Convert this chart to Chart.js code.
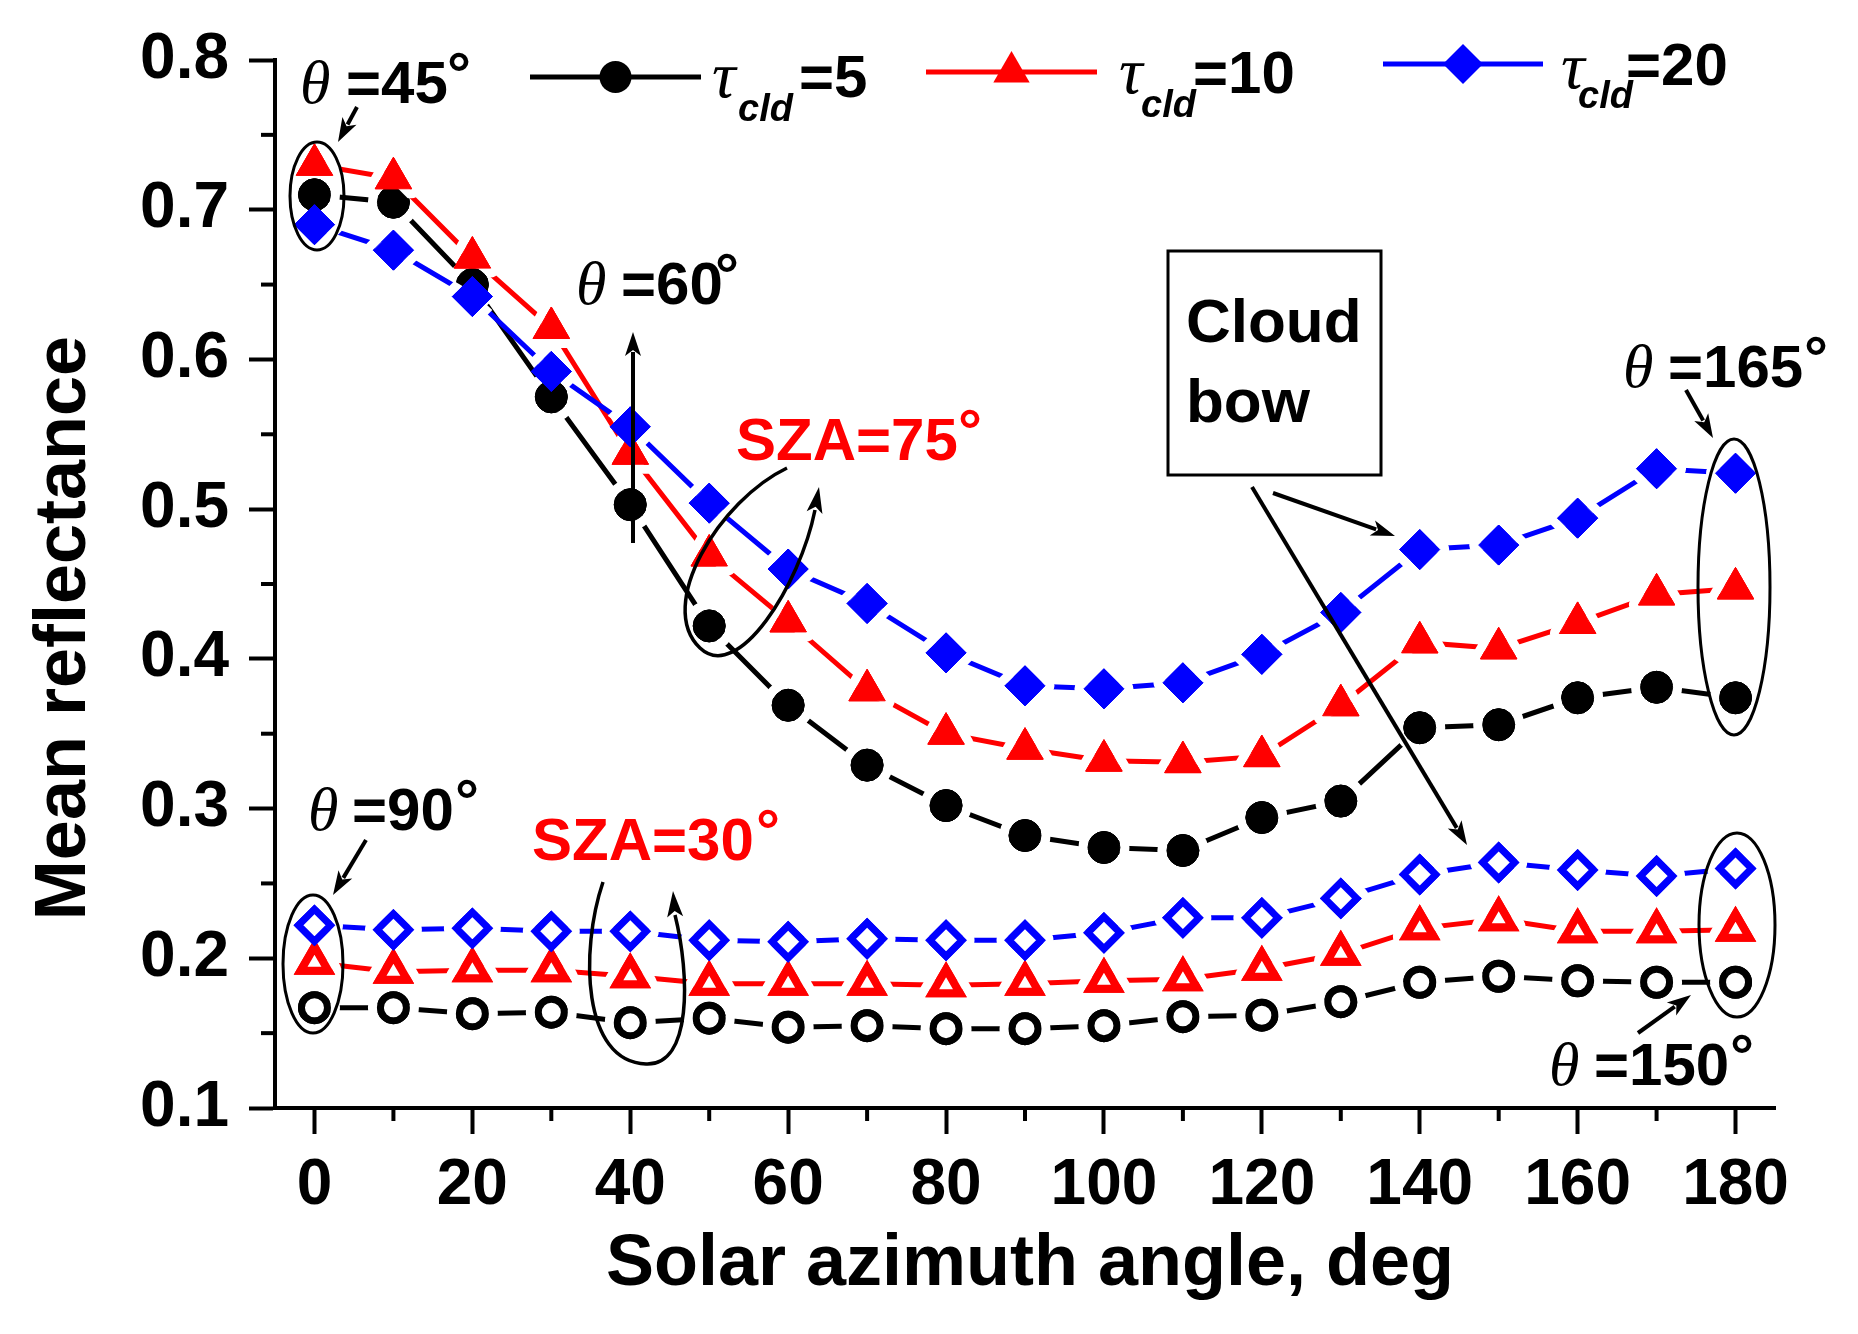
<!DOCTYPE html>
<html>
<head>
<meta charset="utf-8">
<title>Mean reflectance vs solar azimuth angle</title>
<script src="https://cdn.jsdelivr.net/npm/chart.js@4.4.1/dist/chart.umd.min.js"></script>
<style>
  html, body { margin: 0; padding: 0; background: #fff; }
  #wrap { width: 1858px; height: 1334px; }
</style>
</head>
<body>
<div id="wrap"><canvas id="reflChart" width="1858" height="1334"></canvas></div>
<script>
// ========== Data ==========
const azimuth = [0, 10, 20, 30, 40, 50, 60, 70, 80, 90, 100, 110, 120, 130, 140, 150, 160, 170, 180];

// SZA = 75 deg, filled markers
const sza75Tau5  = [0.710, 0.705, 0.650, 0.575, 0.503, 0.422, 0.369, 0.329, 0.302, 0.282, 0.274, 0.272, 0.294, 0.305, 0.354, 0.356, 0.374, 0.381, 0.374];
const sza75Tau10 = [0.730, 0.721, 0.668, 0.621, 0.537, 0.469, 0.425, 0.379, 0.350, 0.340, 0.332, 0.331, 0.335, 0.369, 0.411, 0.407, 0.424, 0.443, 0.447];
const sza75Tau20 = [0.690, 0.673, 0.642, 0.592, 0.555, 0.504, 0.460, 0.437, 0.404, 0.382, 0.380, 0.384, 0.403, 0.431, 0.473, 0.476, 0.494, 0.527, 0.524];

// SZA = 30 deg, hollow markers
const sza30Tau5  = [0.167, 0.167, 0.163, 0.164, 0.157, 0.160, 0.154, 0.155, 0.153, 0.153, 0.155, 0.161, 0.162, 0.171, 0.184, 0.188, 0.185, 0.184, 0.184];
const sza30Tau10 = [0.197, 0.191, 0.192, 0.192, 0.188, 0.183, 0.183, 0.183, 0.182, 0.183, 0.185, 0.186, 0.193, 0.203, 0.220, 0.226, 0.218, 0.218, 0.219];
const sza30Tau20 = [0.222, 0.219, 0.220, 0.218, 0.218, 0.212, 0.211, 0.213, 0.212, 0.212, 0.217, 0.227, 0.227, 0.240, 0.256, 0.264, 0.259, 0.255, 0.260];

// minor tick positions
const minorX = [10, 30, 50, 70, 90, 110, 130, 150, 170];
const minorY = [0.15, 0.25, 0.35, 0.45, 0.55, 0.65, 0.75];

const SANS = '"Liberation Sans", Arial, sans-serif';
const SERIF = '"Liberation Serif", "Times New Roman", serif';
const BLACK = '#000000', RED = '#ff0000', BLUE = '#0000ff';
const GAP = 9;

// ========== Helpers ==========
function series(label, values, color, style, radius, hollow, order) {
    return {
        label: label,
        data: values.map((v, i) => ({ x: azimuth[i], y: v })),
        borderColor: color,
        borderWidth: 5,
        pointStyle: style,
        pointRadius: radius,
        pointHoverRadius: radius,
        pointBackgroundColor: hollow ? '#fff' : color,
        pointBorderColor: color,
        pointBorderWidth: hollow ? (style === 'triangle' ? 8 : 7) : 1,
        tension: 0,
        clip: false,
        order: order
    };
}

function arrow(ctx, x1, y1, x2, y2) {
    const a = Math.atan2(y2 - y1, x2 - x1);
    const len = 24, half = 8;
    const bx = x2 - len * Math.cos(a), by = y2 - len * Math.sin(a);
    ctx.beginPath();
    ctx.moveTo(x1, y1);
    ctx.lineTo(bx + 4 * Math.cos(a), by + 4 * Math.sin(a));
    ctx.stroke();
    arrowHead(ctx, x2, y2, a, len, half);
}

function arrowHead(ctx, x, y, a, len, half) {
    const bx = x - len * Math.cos(a), by = y - len * Math.sin(a);
    const nx = x - (len - 6) * Math.cos(a), ny = y - (len - 6) * Math.sin(a);
    ctx.beginPath();
    ctx.moveTo(x, y);
    ctx.lineTo(bx + half * Math.sin(a), by - half * Math.cos(a));
    ctx.lineTo(nx, ny);
    ctx.lineTo(bx - half * Math.sin(a), by + half * Math.cos(a));
    ctx.closePath();
    ctx.fill();
}

function thetaLabel(ctx, x, base, rest, restX, degX) {
    ctx.fillStyle = BLACK;
    ctx.textAlign = 'left';
    ctx.textBaseline = 'alphabetic';
    ctx.font = 'italic 62px ' + SERIF;
    ctx.fillText('\u03b8', x, base);
    ctx.font = 'bold 60px ' + SANS;
    ctx.fillText(rest, restX, base);
    ctx.fillText('\u00b0', degX, base - 9);
}

function legendEntry(ctx, x1, x2, y, color, style, radius, tauX, tauBase, subX, subBase, valX, valBase, val) {
    ctx.strokeStyle = color;
    ctx.lineWidth = 5;
    ctx.beginPath();
    ctx.moveTo(x1, y);
    ctx.lineTo(x2, y);
    ctx.stroke();
    ctx.fillStyle = color;
    Chart.helpers.drawPoint(ctx, { pointStyle: style, radius: radius, rotation: 0, borderWidth: 0 }, (x1 + x2) / 2, y);
    ctx.fillStyle = BLACK;
    ctx.textAlign = 'left';
    ctx.textBaseline = 'alphabetic';
    ctx.font = 'italic 66px ' + SERIF;
    ctx.fillText('\u03c4', tauX, tauBase);
    ctx.font = 'italic bold 38px ' + SANS;
    ctx.fillText('cld', subX, subBase);
    ctx.font = 'bold 60px ' + SANS;
    ctx.fillText(val, valX, valBase);
}

// ========== Plugins ==========
// white halo round each marker so its own line stops short of it
const markerGaps = {
    id: 'markerGaps',
    afterDatasetDraw(chart, args) {
        const ctx = chart.ctx;
        const pts = args.meta.data;
        const w = args.meta.dataset.options.borderWidth / 2 + 1.5;
        ctx.save();
        // only touch a narrow strip along this dataset's own line
        ctx.beginPath();
        for (let i = 0; i < pts.length - 1; i++) {
            const p = pts[i], q = pts[i + 1];
            const len = Math.hypot(q.x - p.x, q.y - p.y) || 1;
            const nx = -(q.y - p.y) / len * w, ny = (q.x - p.x) / len * w;
            ctx.moveTo(p.x + nx, p.y + ny);
            ctx.lineTo(q.x + nx, q.y + ny);
            ctx.lineTo(q.x - nx, q.y - ny);
            ctx.lineTo(p.x - nx, p.y - ny);
            ctx.closePath();
        }
        ctx.clip();
        pts.forEach(pt => {
            const o = pt.options;
            ctx.fillStyle = '#fff';
            ctx.strokeStyle = '#fff';
            ctx.lineJoin = 'round';
            ctx.lineWidth = o.borderWidth + 2 * GAP;
            Chart.helpers.drawPoint(ctx, { pointStyle: o.pointStyle, radius: o.radius, rotation: 0, borderWidth: 1 }, pt.x, pt.y);
        });
        ctx.restore();
        pts.forEach(pt => pt.draw(chart.ctx, chart.chartArea));
    }
};

const decorations = {
    id: 'decorations',
    afterDraw(chart) {
        const ctx = chart.ctx;
        const xs = chart.scales.x, ys = chart.scales.y;
        const area = chart.chartArea;
        ctx.save();

        // minor ticks
        ctx.strokeStyle = BLACK;
        ctx.lineWidth = 4;
        minorX.forEach(v => {
            const px = xs.getPixelForValue(v);
            ctx.beginPath(); ctx.moveTo(px, area.bottom); ctx.lineTo(px, area.bottom + 13); ctx.stroke();
        });
        minorY.forEach(v => {
            const py = ys.getPixelForValue(v);
            ctx.beginPath(); ctx.moveTo(area.left, py); ctx.lineTo(area.left - 14, py); ctx.stroke();
        });

        // axis titles
        ctx.fillStyle = BLACK;
        ctx.font = 'bold 72px ' + SANS;
        ctx.textAlign = 'center';
        ctx.textBaseline = 'alphabetic';
        ctx.fillText('Solar azimuth angle, deg', 1030, 1285);
        ctx.save();
        ctx.translate(85, 628);
        ctx.rotate(-Math.PI / 2);
        ctx.fillText('Mean reflectance', 0, 0);
        ctx.restore();

        // legend
        legendEntry(ctx, 530, 701, 77, BLACK, 'circle', 16, 712, 97, 738, 121, 799, 97, '=5');
        legendEntry(ctx, 926, 1097, 72, RED, 'triangle', 21, 1119, 93, 1141, 117, 1193, 93, '=10');
        legendEntry(ctx, 1383, 1543, 64, BLUE, 'rectRot', 20, 1561, 88, 1578, 108, 1626, 85, '=20');

        // theta labels
        thetaLabel(ctx, 300, 103, '=45', 346, 447);
        thetaLabel(ctx, 576, 304, '=60', 621, 715);
        thetaLabel(ctx, 308, 830, '=90', 352, 455);
        thetaLabel(ctx, 1623, 387, '=165', 1668, 1804);
        thetaLabel(ctx, 1549, 1085, '=150', 1594, 1730);

        // SZA labels
        ctx.fillStyle = RED;
        ctx.font = 'bold 60px ' + SANS;
        ctx.textAlign = 'left';
        ctx.fillText('SZA=75', 736, 460);
        ctx.fillText('\u00b0', 958, 451);
        ctx.fillText('SZA=30', 532, 860);
        ctx.fillText('\u00b0', 756, 851);

        // Cloud bow box
        ctx.fillStyle = BLACK;
        ctx.strokeStyle = BLACK;
        ctx.lineWidth = 3;
        ctx.strokeRect(1168, 251, 213, 224);
        ctx.font = 'bold 62px ' + SANS;
        ctx.fillText('Cloud', 1186, 342);
        ctx.fillText('bow', 1186, 422);

        // ellipses
        ctx.lineWidth = 3;
        [[317, 196, 27, 54], [313, 964, 30, 69], [1734, 587, 36, 148], [1737, 925, 38, 92]].forEach(e => {
            ctx.beginPath();
            ctx.ellipse(e[0], e[1], e[2], e[3], 0, 0, Math.PI * 2);
            ctx.stroke();
        });

        // open loops ending in arrows
        ctx.lineWidth = 3.5;
        ctx.beginPath();
        ctx.moveTo(787, 468);
        ctx.bezierCurveTo(720, 500, 655, 605, 700, 648);
        ctx.bezierCurveTo(738, 684, 800, 585, 815, 510);
        ctx.stroke();
        arrowHead(ctx, 819, 487, Math.atan2(-23, 4), 26, 8);

        ctx.beginPath();
        ctx.moveTo(603, 882);
        ctx.bezierCurveTo(580, 950, 582, 1062, 646, 1064);
        ctx.bezierCurveTo(692, 1066, 690, 975, 675, 915);
        ctx.stroke();
        arrowHead(ctx, 673, 891, Math.atan2(-24, -2), 26, 8);

        // straight arrows
        ctx.lineWidth = 4;
        arrow(ctx, 357, 107, 338, 142);
        arrow(ctx, 633, 543, 633, 332);
        arrow(ctx, 366, 840, 333, 895);
        arrow(ctx, 1686, 390, 1713, 438);
        arrow(ctx, 1638, 1033, 1691, 995);
        arrow(ctx, 1273, 493, 1395, 536);
        arrow(ctx, 1252, 487, 1467, 845);

        ctx.restore();
    }
};

// ========== Chart ==========
document.addEventListener('DOMContentLoaded', () => {
    const ctx = document.getElementById('reflChart').getContext('2d');
    new Chart(ctx, {
        type: 'line',
        data: {
            datasets: [
                series('SZA75 tau5', sza75Tau5, BLACK, 'circle', 16, false, 6),
                series('SZA75 tau10', sza75Tau10, RED, 'triangle', 21, false, 5),
                series('SZA75 tau20', sza75Tau20, BLUE, 'rectRot', 20, false, 4),
                series('SZA30 tau5', sza30Tau5, BLACK, 'circle', 13, true, 3),
                series('SZA30 tau10', sza30Tau10, RED, 'triangle', 16, true, 2),
                series('SZA30 tau20', sza30Tau20, BLUE, 'rectRot', 16, true, 1)
            ]
        },
        options: {
            responsive: false,
            animation: false,
            devicePixelRatio: 1,
            layout: { padding: { left: 0, right: 83, top: 60, bottom: 0 } },
            plugins: {
                legend: { display: false },
                tooltip: { enabled: false }
            },
            scales: {
                x: {
                    type: 'linear',
                    min: -5,
                    max: 185,
                    border: { display: true, color: BLACK, width: 4 },
                    grid: { drawOnChartArea: false, drawTicks: true, tickLength: 26, tickWidth: 4, tickColor: BLACK },
                    ticks: {
                        stepSize: 20, includeBounds: false, autoSkip: false, maxRotation: 0,
                        padding: 14, color: BLACK,
                        font: { family: SANS, weight: 'bold', size: 64 }
                    },
                    afterFit: s => { s.height = 226; }
                },
                y: {
                    min: 0.1,
                    max: 0.8,
                    border: { display: true, color: BLACK, width: 4 },
                    grid: { drawOnChartArea: false, drawTicks: true, tickLength: 26, tickWidth: 4, tickColor: BLACK },
                    ticks: {
                        stepSize: 0.1, padding: 20, color: BLACK,
                        font: { family: SANS, weight: 'bold', size: 64 },
                        callback: v => Number(v).toFixed(1)
                    },
                    afterFit: s => { s.width = 275; }
                }
            }
        },
        plugins: [markerGaps, decorations]
    });
});
</script>
</body>
</html>
